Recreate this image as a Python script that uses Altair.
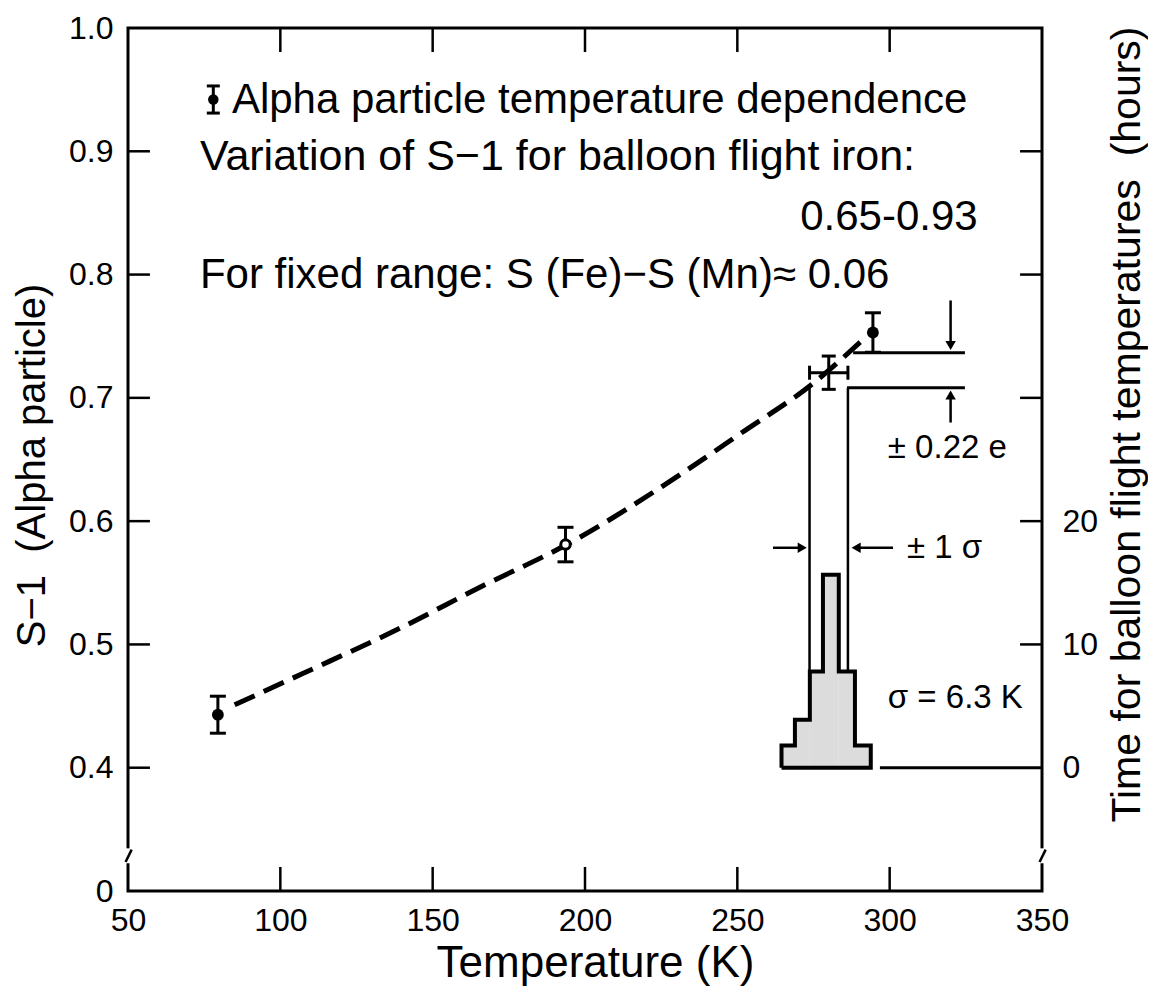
import altair as alt
import pandas as pd

FONT = "Liberation Sans"

# ---------------- data ----------------
# alpha-particle measurements
pt_temp = [79.5, 193.6, 294.5]
pt_s = [0.443, 0.581, 0.753]
pt_err = [0.015, 0.014, 0.016]
pt_kind = ["filled", "open", "filled"]

# dashed trend curve through the measurements
curve_temp = [85, 107, 140, 166, 194, 232, 251, 275, 292]
curve_s = [0.451, 0.476, 0.514, 0.547, 0.581, 0.639, 0.671, 0.712, 0.749]

# balloon-flight iron point (cross)
fe_temp = [280.0]
fe_s = [0.7204]
fe_sigma = [6.3]
fe_err = [0.0135]

# +-0.22e band limits
band_s = [0.7366, 0.7082]
band_from = [288.0, 286.0]
band_to = [324.7, 324.7]

# histogram of balloon-flight temperatures (hours)
hist_lo = [264.5, 268.9, 273.8, 278.1, 283.3, 288.6]
hist_hi = [268.9, 273.8, 278.1, 283.3, 288.6, 293.8]
hist_hours = [1.8, 3.9, 7.8, 15.65, 7.8, 1.8]

# axis ticks
x_ticks = [50, 100, 150, 200, 250, 300, 350]
x_inner_ticks = [100, 150, 200, 250, 300]
s_ticks = [0.3, 0.4, 0.5, 0.6, 0.7, 0.8, 0.9, 1.0]
s_left_inner = [0.4, 0.5, 0.6, 0.7, 0.8, 0.9]
s_right_inner = [0.5, 0.6, 0.7, 0.8, 0.9]
hour_ticks = [0, 10, 20]

# annotations
notes = [
    (84.1, 0.942, "Alpha particle temperature dependence", "left", 42),
    (73.6, 0.8955, "Variation of S\u22121 for balloon flight iron:", "left", 43),
    (328.9, 0.8469, "0.65-0.93", "right", 42),
    (73.6, 0.800, "For fixed range: S\u00a0(Fe)\u2212S\u00a0(Mn)\u2248\u00a00.06", "left", 42),
    (299.4, 0.6595, "\u00b1\u00a00.22\u00a0e", "left", 33),
    (305.7, 0.5784, "\u00b1\u00a01\u00a0\u03c3", "left", 33),
    (299.4, 0.4568, "\u03c3\u00a0=\u00a06.3\u00a0K", "left", 33),
]
legend_temp = [78.0]
legend_s = [0.942]
legend_err = [0.011]

# ---------------- scales / axes ----------------
xscale = alt.Scale(domain=[50, 350], nice=False, zero=False)
sscale = alt.Scale(domain=[0.3, 1.0], nice=False, zero=False)
hscale = alt.Scale(domain=[-10, 60], nice=False, zero=False)

common = dict(grid=False, ticks=False, domain=False, labelFont=FONT, labelColor="black",
              titleFont=FONT, titleColor="black", titleFontWeight="normal", titleLimit=2000)

xaxis = alt.Axis(values=x_ticks, title="Temperature (K)", labelFlush=False, labelFontSize=32,
                 labelPadding=14, titleFontSize=44, titleX=467, titleY=72,
                 titleAlign="center", titleBaseline="middle", **common)
saxis = alt.Axis(values=s_ticks, title="S\u22121\u00a0\u00a0(Alpha particle)",
                 labelExpr="datum.value < 0.35 ? '0' : format(datum.value, '.1f')",
                 labelFontSize=32, labelPadding=15, titleFontSize=40, titleAngle=270,
                 titleX=-96, titleY=437, titleAlign="center", titleBaseline="middle", **common)
haxis = alt.Axis(orient="right", values=hour_ticks, format="d",
                 title="Time for balloon flight temperatures\u00a0\u00a0(hours)",
                 labelFontSize=32, labelPadding=20, titleFontSize=41, titleAngle=270,
                 titleX=85, titleY=396, titleAlign="center", titleBaseline="middle", **common)


def X(f):
    return alt.X(f, type="quantitative", scale=xscale, axis=xaxis)


def S(f):
    return alt.Y(f, type="quantitative", scale=sscale, axis=saxis)


def H(f):
    return alt.Y(f, type="quantitative", scale=hscale, axis=haxis)


TLX = 7.2     # inward tick length in K
TLS = 0.0195  # inward tick length in S units

# frame ticks (inward)
frame_rows = []
for v in s_left_inner:
    frame_rows.append(dict(x=50, x2=50 + TLX, y=v, y2=v))
for v in s_right_inner:
    frame_rows.append(dict(x=350 - TLX, x2=350, y=v, y2=v))
for v in x_inner_ticks:
    frame_rows.append(dict(x=v, x2=v, y=1.0, y2=1.0 - TLS))
    frame_rows.append(dict(x=v, x2=v, y=0.3, y2=0.3 + TLS))
frame_df = pd.DataFrame(frame_rows)
frame = alt.Chart(frame_df).mark_rule(color="black", strokeWidth=2.5).encode(
    x=X("x"), x2="x2", y=S("y"), y2="y2")

# axis breaks
gap_df = pd.DataFrame(dict(x=[50, 350], y=[0.3225, 0.3225], y2=[0.3346, 0.3346]))
gaps = alt.Chart(gap_df).mark_rule(color="white", strokeWidth=9).encode(
    x=X("x"), y=S("y"), y2="y2")
slash_df = pd.DataFrame(dict(x=[49.2, 349.2], x2=[51.2, 351.2], y=[0.3235, 0.3235], y2=[0.3336, 0.3336]))
slashes = alt.Chart(slash_df).mark_rule(color="black", strokeWidth=2.5).encode(
    x=X("x"), x2="x2", y=S("y"), y2="y2")

# dashed curve
curve_df = pd.DataFrame(dict(t=curve_temp, s=curve_s))
curve = alt.Chart(curve_df).mark_line(color="black", strokeWidth=5, strokeDash=[22, 10],
                                      interpolate="monotone").encode(x=X("t"), y=S("s"))

# measurement error bars
pts_df = pd.DataFrame(dict(t=pt_temp, s=pt_s, kind=pt_kind,
                           lo=[a - b for a, b in zip(pt_s, pt_err)],
                           hi=[a + b for a, b in zip(pt_s, pt_err)]))
ebars = alt.Chart(pts_df).mark_rule(color="black", strokeWidth=3).encode(
    x=X("t"), y=S("lo"), y2="hi")
TICK = dict(thickness=3, color="black", opacity=1)
cap_lo = alt.Chart(pts_df).mark_tick(orient="horizontal", size=16, **TICK).encode(
    x=X("t"), y=S("lo"))
cap_hi = alt.Chart(pts_df).mark_tick(orient="horizontal", size=16, **TICK).encode(
    x=X("t"), y=S("hi"))
filled_pts = alt.Chart(pts_df).transform_filter("datum.kind == 'filled'").mark_point(
    shape="circle", filled=True, color="black", size=140, opacity=1).encode(x=X("t"), y=S("s"))
open_pts = alt.Chart(pts_df).transform_filter("datum.kind == 'open'").mark_point(
    shape="circle", filled=False, fill="white", fillOpacity=1, stroke="black", strokeWidth=3,
    size=90, opacity=1).encode(x=X("t"), y=S("s"))

# iron cross
fe_df = pd.DataFrame(dict(t=fe_temp, s=fe_s,
                          tlo=[a - b for a, b in zip(fe_temp, fe_sigma)],
                          thi=[a + b for a, b in zip(fe_temp, fe_sigma)],
                          slo=[a - b for a, b in zip(fe_s, fe_err)],
                          shi=[a + b for a, b in zip(fe_s, fe_err)]))
fe_h = alt.Chart(fe_df).mark_rule(color="black", strokeWidth=3).encode(x=X("tlo"), x2="thi", y=S("s"))
fe_v = alt.Chart(fe_df).mark_rule(color="black", strokeWidth=3).encode(x=X("t"), y=S("slo"), y2="shi")
fe_hc1 = alt.Chart(fe_df).mark_tick(orient="vertical", size=14, **TICK).encode(x=X("tlo"), y=S("s"))
fe_hc2 = alt.Chart(fe_df).mark_tick(orient="vertical", size=14, **TICK).encode(x=X("thi"), y=S("s"))
fe_vc1 = alt.Chart(fe_df).mark_tick(orient="horizontal", size=14, **TICK).encode(x=X("t"), y=S("slo"))
fe_vc2 = alt.Chart(fe_df).mark_tick(orient="horizontal", size=14, **TICK).encode(x=X("t"), y=S("shi"))

# sigma guide lines down to histogram
top_h = max(hist_hours[2], hist_hours[4])
sig_df = pd.DataFrame(dict(t=[fe_temp[0] - fe_sigma[0], fe_temp[0] + fe_sigma[0]],
                           y=[band_s[1], band_s[1]], y2=[0.4 + top_h / 100.0] * 2))
sig_lines = alt.Chart(sig_df).mark_rule(color="black", strokeWidth=2.5).encode(
    x=X("t"), y=S("y"), y2="y2")

# band lines
band_df = pd.DataFrame(dict(s=band_s, a=band_from, b=band_to))
band = alt.Chart(band_df).mark_rule(color="black", strokeWidth=3).encode(x=X("a"), x2="b", y=S("s"))

# arrows
arrow_x = 320.0
shaft_df = pd.DataFrame(dict(
    x=[arrow_x, arrow_x, 261.7, 301.1],
    x2=[arrow_x, arrow_x, 271.0, 290.0],
    y=[0.779, 0.680, 0.5784, 0.5784],
    y2=[0.742, 0.702, 0.5784, 0.5784]))
shafts = alt.Chart(shaft_df).mark_rule(color="black", strokeWidth=2.5).encode(
    x=X("x"), x2="x2", y=S("y"), y2="y2")
head_df = pd.DataFrame(dict(
    x=[arrow_x, arrow_x, 271.3, 289.0],
    y=[0.7425, 0.7023, 0.5784, 0.5784],
    shape=["triangle-down", "triangle-up", "triangle-right", "triangle-left"]))
heads = alt.Chart(head_df).mark_point(filled=True, color="black", size=110, opacity=1).encode(
    x=X("x"), y=S("y"),
    shape=alt.Shape("shape:N", scale=None, legend=None))

# text annotations
notes_df = pd.DataFrame(notes, columns=["t", "s", "label", "align", "size"])
texts = []
for al in ["left", "right"]:
    for sz in sorted(set(notes_df["size"])):
        sub = notes_df[(notes_df["align"] == al) & (notes_df["size"] == sz)]
        if len(sub):
            texts.append(alt.Chart(sub).mark_text(align=al, baseline="middle", font=FONT,
                                                  fontSize=int(sz), color="black").encode(
                x=X("t"), y=S("s"), text="label:N"))

# legend symbol
leg_df = pd.DataFrame(dict(t=legend_temp, s=legend_s,
                           lo=[a - b for a, b in zip(legend_s, legend_err)],
                           hi=[a + b for a, b in zip(legend_s, legend_err)]))
leg_bar = alt.Chart(leg_df).mark_rule(color="black", strokeWidth=3).encode(x=X("t"), y=S("lo"), y2="hi")
leg_c1 = alt.Chart(leg_df).mark_tick(orient="horizontal", size=13, **TICK).encode(x=X("t"), y=S("lo"))
leg_c2 = alt.Chart(leg_df).mark_tick(orient="horizontal", size=13, **TICK).encode(x=X("t"), y=S("hi"))
leg_pt = alt.Chart(leg_df).mark_point(shape="circle", filled=True, color="black", size=110,
                                      opacity=1).encode(x=X("t"), y=S("s"))

s_layer = alt.layer(frame, gaps, slashes, curve, ebars, cap_lo, cap_hi, filled_pts, open_pts,
                    fe_h, fe_v, fe_hc1, fe_hc2, fe_vc1, fe_vc2, sig_lines, band, shafts, heads,
                    *texts, leg_bar, leg_c1, leg_c2, leg_pt)

# ---------------- histogram (right axis, hours) ----------------
hist_df = pd.DataFrame(dict(lo=hist_lo, hi=hist_hi, h=hist_hours, z=[0] * len(hist_lo)))
hist_fill = alt.Chart(hist_df).mark_rect(color="#dcdcdc", opacity=1).encode(
    x=X("lo"), x2="hi", y=H("z"), y2="h")
ox = [hist_lo[0]] + hist_lo + [hist_hi[-1], hist_hi[-1], hist_lo[0]]
oy = [0] + hist_hours + [hist_hours[-1], 0, 0]
outline_df = pd.DataFrame(dict(x=ox, y=oy, o=list(range(len(ox)))))
hist_line = alt.Chart(outline_df).mark_line(color="black", strokeWidth=4,
                                            interpolate="step-after").encode(
    x=X("x"), y=H("y"), order="o:Q")
base_df = pd.DataFrame(dict(a=[296.8], b=[350.0], h=[0]))
base = alt.Chart(base_df).mark_rule(color="black", strokeWidth=3).encode(x=X("a"), x2="b", y=H("h"))

h_layer = alt.layer(hist_fill, hist_line, base)

chart = alt.layer(s_layer, h_layer).resolve_scale(y="independent").properties(
    width=914, height=863,
    autosize=alt.AutoSizeParams(type="none"),
    padding={"left": 120, "top": 20, "right": 106, "bottom": 97},
    background="white",
).configure_view(stroke="black", strokeWidth=3)

chart.save("out.html", embed_options={"renderer": "svg", "actions": False})
